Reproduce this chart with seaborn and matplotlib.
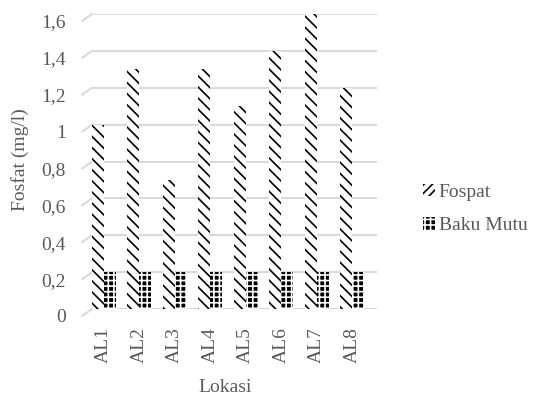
import matplotlib
matplotlib.use("Agg")
import matplotlib.pyplot as plt
import matplotlib.transforms as mtransforms
from matplotlib.patches import Patch
import seaborn as sns
import pandas as pd

lokasi = ["AL1", "AL2", "AL3", "AL4", "AL5", "AL6", "AL7", "AL8"]
fospat = [1.0, 1.3, 0.7, 1.3, 1.1, 1.4, 1.6, 1.2]
baku_mutu = [0.2, 0.2, 0.2, 0.2, 0.2, 0.2, 0.2, 0.2]
yticks = [0, 0.2, 0.4, 0.6, 0.8, 1.0, 1.2, 1.4, 1.6]
ytick_labels = ["0", "0,2", "0,4", "0,6", "0,8", "1", "1,2", "1,4", "1,6"]

df = pd.DataFrame({
    "Lokasi": lokasi * 2,
    "Nilai": fospat + baku_mutu,
    "Seri": ["Fospat"] * len(lokasi) + ["Baku Mutu"] * len(lokasi),
})

sns.set_theme(style="white")
plt.rcParams["font.family"] = ["Liberation Serif", "DejaVu Serif"]
plt.rcParams["hatch.linewidth"] = 1.2
txt = "#595959"
fs = 14

fig = plt.figure(figsize=(5.37, 3.98), dpi=100)
ax = fig.add_axes([92 / 537, 1 - 309 / 398, 285 / 537, 295 / 398])

sns.barplot(data=df, x="Lokasi", y="Nilai", hue="Seri", ax=ax,
            width=0.68, gap=0, legend=False, zorder=3)

n = len(lokasi)
for i, p in enumerate(ax.patches):
    p.set_linewidth(0)
    if i < n:
        p.set_facecolor("white")
        p.set_edgecolor("black")
        p.set_hatch("\\\\\\")
    else:
        p.set_facecolor("black")
        p.set_edgecolor("white")
        p.set_hatch("+++")

ax.set_ylim(0, 1.6)
ax.set_xlim(-0.33, 7.7)
ax.set_yticks(yticks)
ax.set_yticklabels(ytick_labels)
ax.yaxis.grid(True, color="#d9d9d9", linewidth=1.5, zorder=0)
ax.set_axisbelow(True)
for s in ax.spines.values():
    s.set_visible(False)

# slanted stubs of the gridlines (3D floor look)
for y in yticks:
    ax.plot([-0.61, -0.33], [y - 0.038, y], color="#d9d9d9", lw=1.5,
            clip_on=False, zorder=0)

ax.tick_params(axis="y", length=0, pad=19, labelsize=fs, labelcolor=txt)
ax.tick_params(axis="x", length=0, pad=13, labelsize=fs, labelcolor=txt,
               labelrotation=90)
shift = mtransforms.ScaledTranslation(0, -7 / 100, fig.dpi_scale_trans)
for lab in ax.get_yticklabels():
    lab.set_transform(lab.get_transform() + shift)
ax.set_xlabel("")
ax.set_ylabel("")
fig.text(225 / 537, 1 - 388 / 398, "Lokasi", fontsize=fs, color=txt,
         ha="center", va="center")
fig.text(20 / 537, 1 - 160 / 398, "Fosfat (mg/l)", fontsize=fs, color=txt,
         ha="center", va="center", rotation=90)

handles = [Patch(facecolor="white", edgecolor="black", hatch="////", lw=0),
           Patch(facecolor="black", edgecolor="white", hatch="+++", lw=0)]
leg = fig.legend(handles, ["Fospat", "Baku Mutu"], loc="center left",
                 bbox_to_anchor=(423 / 537, 1 - 209 / 398), frameon=False,
                 fontsize=fs, handlelength=0.6, handleheight=0.6,
                 handletextpad=0.2, labelspacing=0.85, borderpad=0,
                 borderaxespad=0)
for t in leg.get_texts():
    t.set_color(txt)

fig.savefig("out.png", dpi=100)
